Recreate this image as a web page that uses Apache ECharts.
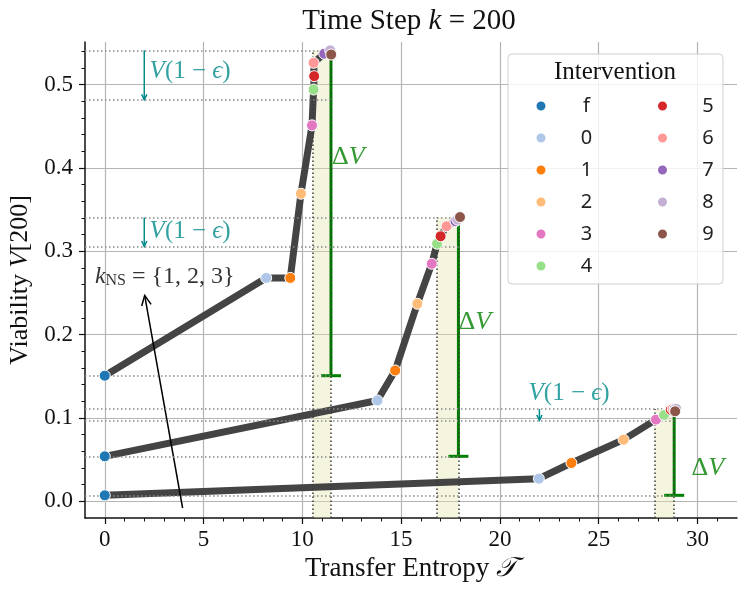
<!DOCTYPE html>
<html>
<head>
<meta charset="utf-8">
<script src="https://cdn.jsdelivr.net/npm/echarts@6/dist/echarts.min.js"></script>
<style>
html, body { margin: 0; padding: 0; background: #fff; }
#main { width: 747px; height: 592px; }
</style>
</head>
<body>
<div id="main"></div>
<script>
// interventions, in legend order
var names = ['f', '0', '1', '2', '3', '4', '5', '6', '7', '8', '9'];
var colors = ['#1f77b4', '#aec7e8', '#ff7f0e', '#ffbb78', '#e377c2', '#98df8a',
              '#d62728', '#ff9896', '#9467bd', '#c5b0d5', '#8c564b'];

// three trajectories: transfer entropy / viability per intervention
var teA = [0, 8.17, 9.39, 9.93, 10.49, 10.57, 10.6, 10.57, 11.11, 11.41, 11.46];
var vA  = [0.1507, 0.268, 0.268, 0.369, 0.451, 0.494, 0.510, 0.526, 0.537, 0.541, 0.536];
var teB = [0, 13.8, 14.7, 15.82, 16.55, 16.82, 17.0, 17.3, 17.75, 17.85, 17.98];
var vB  = [0.054, 0.121, 0.157, 0.237, 0.285, 0.309, 0.318, 0.330, 0.336, 0.338, 0.341];
var teC = [0, 21.97, 23.62, 26.26, 27.9, 28.31, 28.65, 28.75, 28.85, 28.92, 28.87];
var vC  = [0.0072, 0.0272, 0.046, 0.074, 0.098, 0.1036, 0.110, 0.111, 0.111, 0.111, 0.108];

// per trajectory: V, V(1-eps), start value, band and delta-V bar
var vMax   = [0.541, 0.3405, 0.1108];
var vEps   = [0.4817, 0.3058, 0.0971];
var vStart = [0.1507, 0.054, 0.0072];
var bandL  = [10.52, 16.8, 27.83];
var bandR  = [11.45, 17.9, 28.82];
var barTop = [0.536, 0.341, 0.108];
var arrowX = [2, 2, 22];

// ticks
var xMajor = [0, 5, 10, 15, 20, 25, 30];
var yMajor = [0, 0.1, 0.2, 0.3, 0.4, 0.5];
var xMinor = [], yMinor = [];
for (var i = 0; i <= 31; i++) xMinor.push(i);
for (var j = 0; j <= 27; j++) yMinor.push(+(j * 0.02).toFixed(2));

var SERIF = 'Liberation Serif';
var TEAL = '#008b8b';
var GREEN = '#008000';

var myChart = echarts.init(document.getElementById('main'));

function zip(xs, ys) {
    return xs.map(function (x, k) { return [x, ys[k]]; });
}

function arrowRender(color, lw, head) {
    return function (params, api) {
        var a = api.coord([api.value(0), api.value(1)]);
        var b = api.coord([api.value(2), api.value(3)]);
        var ang = Math.atan2(b[1] - a[1], b[0] - a[0]);
        var s = 0.45;
        var h1 = [b[0] - head * Math.cos(ang - s), b[1] - head * Math.sin(ang - s)];
        var h2 = [b[0] - head * Math.cos(ang + s), b[1] - head * Math.sin(ang + s)];
        return {
            type: 'group',
            children: [
                { type: 'line', shape: { x1: a[0], y1: a[1], x2: b[0], y2: b[1] },
                  style: { stroke: color, lineWidth: lw } },
                { type: 'polyline', shape: { points: [h1, b, h2] },
                  style: { stroke: color, fill: null, lineWidth: lw } }
            ]
        };
    };
}

var series = [];

// trajectories
[[teA, vA], [teB, vB], [teC, vC]].forEach(function (c) {
    series.push({
        type: 'line',
        data: zip(c[0], c[1]),
        showSymbol: false,
        silent: true,
        z: 2,
        lineStyle: { color: '#444444', width: 7, join: 'round' }
    });
});

// bands and dotted guides
var hLines = [], vLines = [], areas = [];
for (var k = 0; k < 3; k++) {
    [vMax[k], vEps[k], vStart[k]].forEach(function (v) {
        hLines.push([{ coord: [-1, v] }, { coord: [bandR[k], v] }]);
    });
    vLines.push([{ coord: [bandL[k], -0.02] }, { coord: [bandL[k], vMax[k]] }]);
    vLines.push([{ coord: [bandR[k], -0.02] }, { coord: [bandR[k], vMax[k]] }]);
    areas.push([{ coord: [bandL[k], -0.02] }, { coord: [bandR[k], vMax[k]] }]);
}
series.push({
    type: 'line', data: [], silent: true,
    markArea: {
        silent: true,
        itemStyle: { color: 'rgba(230,230,170,0.38)' },
        data: areas
    },
    markLine: {
        silent: true, symbol: ['none', 'none'], label: { show: false },
        lineStyle: { color: '#8a8a8a', width: 1.5, type: [1.5, 2.5] },
        data: hLines
    }
});
series.push({
    type: 'line', data: [], silent: true,
    markLine: {
        silent: true, symbol: ['none', 'none'], label: { show: false },
        lineStyle: { color: '#3a3a3a', width: 1.5, type: [1.5, 2.5] },
        data: vLines
    }
});

// delta V bars
series.push({
    type: 'custom',
    silent: true,
    z: 3,
    data: bandR.map(function (x, k) { return [x, barTop[k], vStart[k]]; }),
    renderItem: function (params, api) {
        var t = api.coord([api.value(0), api.value(1)]);
        var b = api.coord([api.value(0), api.value(2)]);
        return {
            type: 'group',
            children: [
                { type: 'line', shape: { x1: t[0], y1: t[1], x2: b[0], y2: b[1] },
                  style: { stroke: GREEN, lineWidth: 3 } },
                { type: 'line', shape: { x1: b[0] - 10, y1: b[1], x2: b[0] + 10, y2: b[1] },
                  style: { stroke: GREEN, lineWidth: 3 } }
            ]
        };
    }
});

// V(1-eps) arrows
series.push({
    type: 'custom', silent: true, z: 4,
    data: arrowX.map(function (x, k) { return [x, vMax[k], x, vEps[k]]; }),
    renderItem: arrowRender(TEAL, 1.5, 6)
});
// k_NS arrow
series.push({
    type: 'custom', silent: true, z: 4,
    data: [[3.94, -0.008, 2.02, 0.247]],
    renderItem: arrowRender('#000', 1.5, 11)
});

// intervention markers
names.forEach(function (n, k) {
    series.push({
        name: n,
        type: 'scatter',
        symbol: 'circle',
        symbolSize: 11,
        z: 6,
        itemStyle: { color: colors[k], borderColor: '#fff', borderWidth: 1, opacity: 1 },
        data: [[teA[k], vA[k]], [teB[k], vB[k]], [teC[k], vC[k]]]
    });
});

// text annotations
var veps = '{v|V}{n|(1 − }{v|ϵ}{n|)}';
var dv = '{n|Δ}{v|V}';
function note(x, y, fmt, color, size) {
    return {
        value: [x, y],
        label: {
            show: true, position: 'right', distance: 0, color: color,
            fontFamily: SERIF, fontSize: size,
            formatter: fmt,
            rich: {
                n: { fontFamily: SERIF, fontSize: size, color: color },
                v: { fontFamily: SERIF, fontSize: size, fontStyle: 'italic', color: color },
                s: { fontFamily: SERIF, fontSize: 16, color: color, verticalAlign: 'bottom', lineHeight: 16, padding: [14, 0, 0, 0] }
            }
        }
    };
}
series.push({
    type: 'scatter', silent: true, symbolSize: 0, z: 7,
    data: [
        note(2.27, 0.516, veps, TEAL, 25),
        note(2.27, 0.3234, veps, TEAL, 25),
        note(21.45, 0.130, veps, TEAL, 25),
        note(11.5, 0.413, dv, GREEN, 26),
        note(17.9, 0.2155, dv, GREEN, 26),
        note(29.7, 0.040, dv, GREEN, 26),
        note(-0.5, 0.269, '{v|k}{s|NS}{n| = {1, 2, 3}}', '#000', 24)
    ]
});

var legendText = {
    fontFamily: 'Noto Sans', fontSize: 20, color: '#222', lineHeight: 20,
    rich: { a: { width: 70, align: 'center', fontFamily: 'Noto Sans', fontSize: 20, color: '#222' } }
};

var option = {
    animation: false,
    backgroundColor: '#fff',
    grid: { left: 85, right: 10, top: 42, bottom: 74, containLabel: false, outerBoundsMode: 'none' },
    xAxis: [
        {
            type: 'value', min: -1, max: 32, position: 'bottom',
            name: '{n|Transfer Entropy }{t|𝒯}',
            nameLocation: 'middle', nameGap: 31,
            nameTextStyle: {
                rich: {
                    n: { fontFamily: SERIF, fontSize: 27, color: '#111' },
                    t: { fontFamily: SERIF, fontSize: 27, fontStyle: 'italic', color: '#111' }
                }
            },
            axisLine: { show: true, onZero: false, lineStyle: { color: '#111', width: 1.5 } },
            axisTick: { show: true, length: 6, customValues: xMajor, lineStyle: { color: '#111', width: 1.2 } },
            axisLabel: { customValues: xMajor, margin: 10, fontFamily: SERIF, fontSize: 23, color: '#111' },
            splitLine: { show: true, lineStyle: { color: '#b4b4b4', width: 1.2 } }
        },
        {
            type: 'value', min: -1, max: 32, position: 'bottom',
            axisLine: { show: false, onZero: false },
            axisTick: { show: true, length: 3.5, customValues: xMinor, lineStyle: { color: '#111', width: 1 } },
            axisLabel: { show: false },
            splitLine: { show: false }
        }
    ],
    yAxis: [
        {
            type: 'value', min: -0.02, max: 0.551, position: 'left',
            name: '{n|Viability }{v|V}{n|[200]}',
            nameLocation: 'middle', nameGap: 50,
            nameTextStyle: {
                rich: {
                    n: { fontFamily: SERIF, fontSize: 26, color: '#111' },
                    v: { fontFamily: SERIF, fontSize: 26, fontStyle: 'italic', color: '#111' }
                }
            },
            axisLine: { show: true, onZero: false, lineStyle: { color: '#111', width: 1.5 } },
            axisTick: { show: true, length: 6, customValues: yMajor, lineStyle: { color: '#111', width: 1.2 } },
            axisLabel: {
                customValues: yMajor, margin: 12, fontFamily: SERIF, fontSize: 23, color: '#111',
                formatter: function (v) { return v.toFixed(1); }
            },
            splitLine: { show: true, lineStyle: { color: '#b4b4b4', width: 1.2 } }
        },
        {
            type: 'value', min: -0.02, max: 0.551, position: 'left',
            axisLine: { show: false, onZero: false },
            axisTick: { show: true, length: 3.5, customValues: yMinor, lineStyle: { color: '#111', width: 1 } },
            axisLabel: { show: false },
            splitLine: { show: false }
        }
    ],
    legend: [
        {
            data: names.slice(0, 6), orient: 'vertical', left: 534.5, top: 96,
            padding: 0, itemWidth: 11, itemHeight: 11, itemGap: 12, icon: 'circle',
            selectedMode: false, z: 120, formatter: '{a|{name}}', textStyle: legendText
        },
        {
            data: names.slice(6), orient: 'vertical', left: 656, top: 96,
            padding: 0, itemWidth: 11, itemHeight: 11, itemGap: 12, icon: 'circle',
            selectedMode: false, z: 120, formatter: '{a|{name}}', textStyle: legendText
        }
    ],
    graphic: [
        {
            type: 'rect', z: 100,
            shape: { x: 508, y: 54, width: 215, height: 230, r: 4 },
            style: { fill: 'rgba(255,255,255,0.8)', stroke: '#cfcfcf', lineWidth: 1 }
        },
        {
            type: 'text', z: 101, x: 615, y: 72,
            style: {
                text: 'Intervention', fontFamily: SERIF, fontSize: 25, fill: '#111',
                textAlign: 'center', textVerticalAlign: 'middle'
            }
        },
        {
            type: 'text', z: 101, x: 409, y: 21,
            style: {
                text: '{n|Time Step }{i|k}{n| = 200}',
                textAlign: 'center', textVerticalAlign: 'middle',
                rich: {
                    n: { fontFamily: SERIF, fontSize: 29, fill: '#111' },
                    i: { fontFamily: SERIF, fontSize: 29, fontStyle: 'italic', fill: '#111' }
                }
            }
        }
    ],
    series: series
};

myChart.setOption(option);
</script>
</body>
</html>
